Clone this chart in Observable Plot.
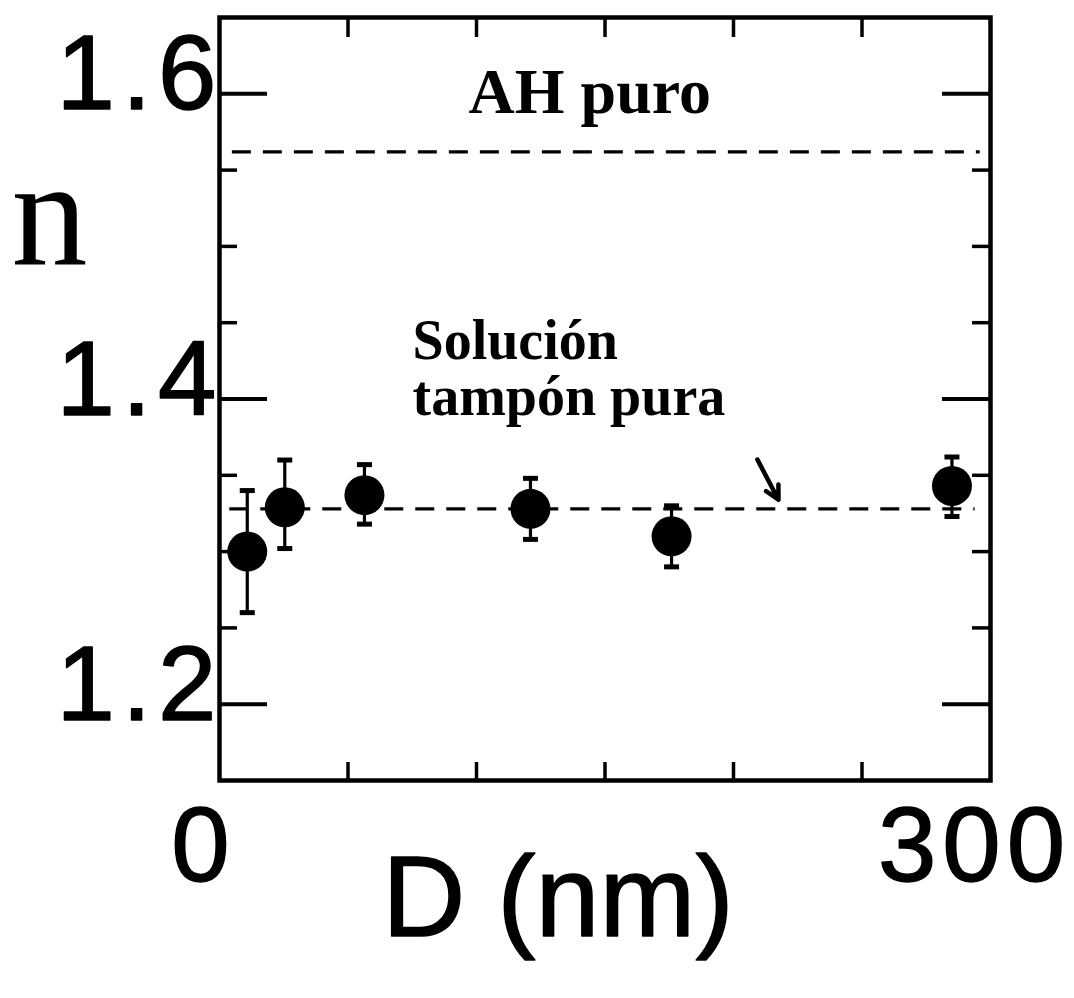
<!DOCTYPE html>
<html>
<head>
<meta charset="utf-8">
<script src="https://cdn.jsdelivr.net/npm/d3@7"></script>
<script src="https://cdn.jsdelivr.net/npm/@observablehq/plot@0.6"></script>
<style>
  html, body { margin: 0; padding: 0; background: white; }
</style>
</head>
<body>
<div id="chart"></div>
<script>
// ---- Data ----
const diameters = [10.8, 25.4, 56.4, 121, 175.9, 285];        // D (nm)
const indexValues = [1.300, 1.329, 1.337, 1.328, 1.310, 1.343]; // n
const indexLow = [1.260, 1.302, 1.318, 1.308, 1.290, 1.323];
const indexHigh = [1.340, 1.360, 1.357, 1.348, 1.330, 1.362];

const refLevels = [1.562, 1.328];          // AH puro, solución tampón pura
const refStart = [5, 4];
const refEnd = [296, 294];

const yTickLabels = [1.2, 1.4, 1.6];
const yMajorTicks = [1.2, 1.4, 1.6];
const yMinorTicks = [1.25, 1.3, 1.35, 1.45, 1.5, 1.55];
const xTicks = [50, 100, 150, 200, 250];
const xTickLabels = [0, 300];

const topLabel = ["AH puro"];
const topLabelD = [96.9];
const topLabelN = [1.5876];

const bufferLabel = ["Solución\ntampón pura"];
const bufferLabelD = [75.1];
const bufferLabelN = [1.3898];

const arrowD1 = [209.3], arrowN1 = [1.3603], arrowD2 = [217.5], arrowN2 = [1.334];

// ---- Build tables ----
const points = diameters.map((d, i) => ({D: d, n: indexValues[i], lo: indexLow[i], hi: indexHigh[i]}));
const refs = refLevels.map((v, i) => ({n: v, x1: refStart[i], x2: refEnd[i]}));
const topAnn = topLabel.map((t, i) => ({t, D: topLabelD[i], n: topLabelN[i]}));
const bufAnn = bufferLabel.map((t, i) => ({t, D: bufferLabelD[i], n: bufferLabelN[i]}));
const arrows = arrowD1.map((d, i) => ({x1: d, y1: arrowN1[i], x2: arrowD2[i], y2: arrowN2[i]}));

const W = 1074, H = 998;
const mL = 219, mR = 84, mT = 17, mB = 218;
const pw = W - mL - mR, ph = H - mT - mB;

const capSymbol = { draw(ctx, size) { ctx.rect(-7.5, -2.5, 15, 5); } };
const sans = "'Liberation Sans', Arial, sans-serif";
const serif = "'Liberation Serif', 'Times New Roman', serif";

const chart = Plot.plot({
  width: W, height: H,
  marginLeft: mL, marginRight: mR, marginTop: mT, marginBottom: mB,
  x: {domain: [0, 300], axis: null},
  y: {domain: [1.15, 1.65], axis: null},
  style: {background: "white", color: "black", fontFamily: sans, overflow: "visible"},
  marks: [
    // ticks inside the frame
    Plot.ruleY(yMinorTicks, {y: d => d, insetRight: pw - 18, strokeWidth: 3.5}),
    Plot.ruleY(yMinorTicks, {y: d => d, insetLeft: pw - 18, strokeWidth: 3.5}),
    Plot.ruleY(yMajorTicks, {y: d => d, insetRight: pw - 48, strokeWidth: 4}),
    Plot.ruleY(yMajorTicks, {y: d => d, insetLeft: pw - 48, strokeWidth: 4}),
    Plot.ruleX(xTicks, {x: d => d, insetBottom: ph - 20, strokeWidth: 3.5}),
    Plot.ruleX(xTicks, {x: d => d, insetTop: ph - 18, strokeWidth: 3.5}),
    Plot.frame({stroke: "black", strokeWidth: 4.5}),
    // reference lines
    Plot.ruleY(refs, {y: "n", x1: "x1", x2: "x2", strokeWidth: 3.2, strokeDasharray: "19,12"}),
    // error bars
    Plot.ruleX(points, {x: "D", y1: "lo", y2: "hi", strokeWidth: 3.2}),
    Plot.dot(points, {x: "D", y: "lo", symbol: capSymbol, fill: "black", stroke: null}),
    Plot.dot(points, {x: "D", y: "hi", symbol: capSymbol, fill: "black", stroke: null}),
    Plot.dot(points, {x: "D", y: "n", r: 20, fill: "black", stroke: null}),
    // annotations
    Plot.text(topAnn, {x: "D", y: "n", text: "t", textAnchor: "start", lineAnchor: "bottom",
      fontFamily: serif, fontWeight: "bold", fontSize: 64}),
    Plot.text(bufAnn, {x: "D", y: "n", text: "t", textAnchor: "start", lineAnchor: "bottom",
      lineHeight: 1.0, fontFamily: serif, fontWeight: "bold", fontSize: 56}),
    Plot.arrow(arrows, {x1: "x1", y1: "y1", x2: "x2", y2: "y2", strokeWidth: 4.5, headLength: 16, headAngle: 55}),
    // tick labels
    Plot.text(yTickLabels, {y: d => d, text: d => d.toFixed(1), frameAnchor: "left", textAnchor: "start",
      dx: -163, dy: -18, fontSize: 105, fill: "black", stroke: "black", strokeWidth: 1.5}),
    Plot.text(xTickLabels, {x: d => d, text: d => String(d), frameAnchor: "bottom", lineAnchor: "top",
      dx: -16, dy: 26, fontSize: 105, fill: "black", stroke: "black", strokeWidth: 1.5}),
    // axis labels
    Plot.text(["D (nm)"], {frameAnchor: "bottom", lineAnchor: "bottom", dx: -47, dy: 155, fontSize: 115,
      fill: "black", stroke: "black", strokeWidth: 1.5}),
    Plot.text(["n"], {frameAnchor: "top-left", textAnchor: "middle", lineAnchor: "bottom", dx: -170, dy: 246,
      fontSize: 152, fontFamily: serif, fill: "black"})
  ]
});

// widen the tick-label lettering like the reference
const yLabelTexts = yTickLabels.map(d => d.toFixed(1));
const xLabelTexts = xTickLabels.map(String);
chart.querySelectorAll("text").forEach(t => {
  const s = t.textContent;
  if (yLabelTexts.includes(s)) t.style.letterSpacing = "7px";
  else if (xLabelTexts.includes(s)) t.style.letterSpacing = "6px";
});
document.getElementById("chart").appendChild(chart);
</script>
</body>
</html>
